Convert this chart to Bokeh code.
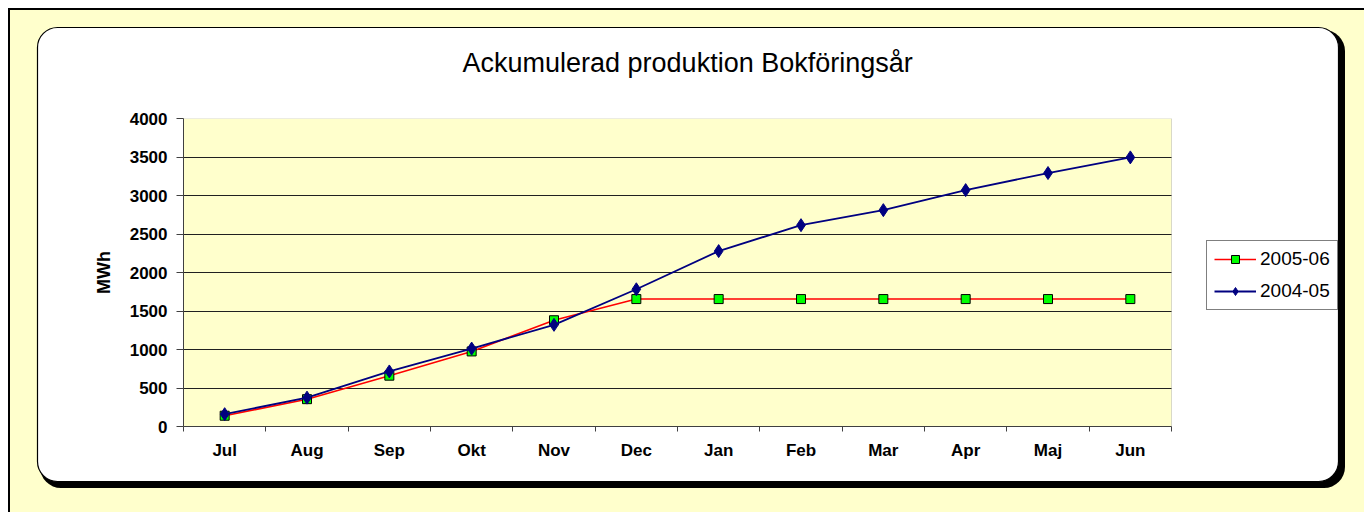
from urllib.parse import quote
from bokeh.plotting import figure
from bokeh.models import Range1d, FixedTicker, Legend, LegendItem, BoxAnnotation
from bokeh.embed import file_html
from bokeh.resources import INLINE

# ---- data ----
months = ["Jul", "Aug", "Sep", "Okt", "Nov", "Dec", "Jan", "Feb", "Mar", "Apr", "Maj", "Jun"]
prod_2005_06 = [140, 355, 660, 975, 1380, 1655, 1655, 1655, 1655, 1655, 1655, 1655]
prod_2004_05 = [160, 375, 715, 1012, 1320, 1782, 2278, 2615, 2810, 3070, 3292, 3495]
y_ticks = [0, 500, 1000, 1500, 2000, 2500, 3000, 3500, 4000]
series_names = ["2005-06", "2004-05"]
title_text = "Ackumulerad produktion Bokföringsår"
y_label = "MWh"

FONT = "Liberation Sans"
W, H = 1364, 512
FL, FR, FT, FB = 183, 1171, 118, 426   # plot-area edges (category span)
FRAME_R = 1342                          # frame reaches right so the legend fits inside
N = len(months)
Y_MAX = 4000

xs = [i + 0.5 for i in range(N)]
x_end = N * (FRAME_R - FL) / (FR - FL)

# decorative chart background: yellow sheet, black edge, white rounded box with shadow
bg_svg = (
    "<svg xmlns='http://www.w3.org/2000/svg' width='1364' height='512'>"
    "<rect x='8' y='8' width='1356' height='504' fill='#FFFFCC'/>"
    "<path d='M9 512 V9 H1364' stroke='black' stroke-width='2' fill='none'/>"
    "<rect x='40' y='30' width='1305' height='458' rx='21' fill='black'/>"
    "<rect x='37.5' y='27.5' width='1301' height='454' rx='20' fill='white' stroke='black' stroke-width='1.2'/>"
    "</svg>"
)

p = figure(width=W, height=H, output_backend="svg", toolbar_location=None,
           x_range=Range1d(0, x_end), y_range=Range1d(0, Y_MAX),
           min_border_left=FL, min_border_right=W - FRAME_R,
           min_border_top=FT, min_border_bottom=H - FB)

p.border_fill_color = None
p.background_fill_color = None
p.outline_line_color = None
p.styles = {"background-image": "url(\"data:image/svg+xml;utf8," + quote(bg_svg) + "\")",
            "background-repeat": "no-repeat"}

# plot area
area = BoxAnnotation(left=0, right=N, bottom=0, top=Y_MAX,
                     fill_color="#FFFFCC", fill_alpha=1,
                     line_color="#808080", line_width=1, level="image")
p.renderers.append(area)

# title
p.title.text = title_text
p.title.text_font = FONT
p.title.text_font_size = "27px"
p.title.text_font_style = "normal"
p.title.text_color = "black"
p.title.align = "left"
p.title.offset = 279
p.title.standoff = 81

# grid
p.xgrid.visible = False
p.ygrid.ticker = FixedTicker(ticks=y_ticks)
p.ygrid.cross_bounds = (0, N)
p.ygrid.grid_line_color = "#202020"
p.ygrid.grid_line_width = 1

# axes
p.yaxis.ticker = FixedTicker(ticks=y_ticks)
p.yaxis.axis_label = y_label
p.yaxis.axis_label_text_font = FONT
p.yaxis.axis_label_text_font_style = "bold"
p.yaxis.axis_label_text_font_size = "18px"
p.yaxis.axis_label_text_color = "black"
p.yaxis.axis_label_standoff = 13
p.yaxis.major_tick_out = 7
p.yaxis.major_tick_in = 0
p.yaxis.minor_tick_out = 0
p.yaxis.minor_tick_in = 0
p.yaxis.major_label_standoff = 9

p.xaxis.ticker = FixedTicker(ticks=xs, minor_ticks=list(range(N + 1)))
p.xaxis.major_label_overrides = {x: m for x, m in zip(xs, months)}
p.xaxis.bounds = (0, N)
p.xaxis.major_tick_out = 0
p.xaxis.major_tick_in = 0
p.xaxis.minor_tick_out = 5
p.xaxis.minor_tick_in = 0
p.xaxis.minor_tick_line_color = "#404040"
p.xaxis.major_label_standoff = 9

for ax in (p.xaxis, p.yaxis):
    ax.major_label_text_font = FONT
    ax.major_label_text_font_style = "bold"
    ax.major_label_text_font_size = "17px"
    ax.major_label_text_color = "black"
    ax.axis_line_color = "#404040"
    ax.major_tick_line_color = "#404040"

# series
l1 = p.line(xs, prod_2005_06, line_color="#FF0000", line_width=1.6)
s1 = p.scatter(xs, prod_2005_06, marker="square", size=9,
               fill_color="#00FF00", line_color="black", line_width=1)
l2 = p.line(xs, prod_2004_05, line_color="#000080", line_width=1.8)
s2 = p.scatter(xs, prod_2004_05, marker="diamond", size=13,
               fill_color="#000080", line_color="#000080", line_width=1)

legend = Legend(items=[LegendItem(label=series_names[0], renderers=[l1, s1]),
                       LegendItem(label=series_names[1], renderers=[l2, s2])],
                location=(1206 - FL, FB - 310), orientation="vertical",
                glyph_width=42, glyph_height=20, label_height=20,
                label_standoff=4, spacing=10, padding=7, margin=0,
                label_text_font=FONT, label_text_font_size="19px",
                label_text_color="black",
                border_line_color="black", border_line_width=1,
                background_fill_color="white", background_fill_alpha=1)
p.add_layout(legend, "center")

open("out.html", "w").write(file_html(p, INLINE))
